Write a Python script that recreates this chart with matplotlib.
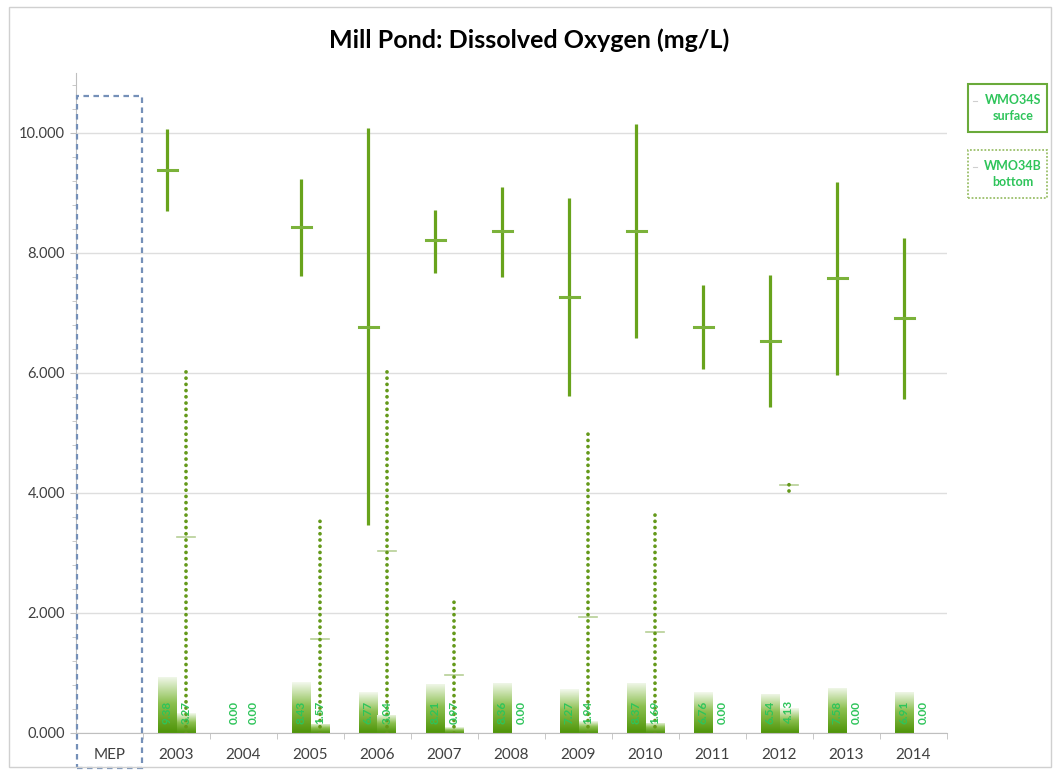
import numpy as np
import matplotlib
matplotlib.use("Agg")
import matplotlib.pyplot as plt
from matplotlib.patches import Rectangle
from matplotlib.colors import LinearSegmentedColormap
from matplotlib.ticker import MultipleLocator, FixedLocator

plt.rcParams['font.family'] = ['Lato', 'DejaVu Sans']

categories = ['MEP', '2003', '2004', '2005', '2006', '2007', '2008', '2009',
              '2010', '2011', '2012', '2013', '2014']
surface_mean = [None, 9.38, 0.00, 8.43, 6.77, 8.21, 8.36, 7.27, 8.37, 6.76, 6.54, 7.58, 6.91]
surface_high = [None, 10.07, None, 9.23, 10.08, 8.72, 9.10, 8.92, 10.15, 7.47, 7.64, 9.18, 8.25]
surface_low = [None, 8.70, None, 7.62, 3.46, 7.67, 7.60, 5.61, 6.59, 6.06, 5.44, 5.97, 5.57]
bottom_mean = [None, 3.27, 0.00, 1.57, 3.04, 0.97, 0.00, 1.94, 1.69, 0.00, 4.13, 0.00, 0.00]
bottom_high = [None, 6.09, None, 3.58, 6.07, 2.25, None, 5.02, 3.71, None, 4.20, None, None]
bottom_low = [None, 0.00, None, 0.00, 0.00, 0.00, None, 0.00, 0.00, None, 4.03, None, None]
y_ticks = [0, 2, 4, 6, 8, 10]

surf_color = '#68a31c'
bot_color = '#64991a'
label_color = '#2ec45a'

fig = plt.figure(figsize=(10.55, 7.71), dpi=100)
W, H = 1055, 771
ax = fig.add_axes([76 / W, 1 - 733 / H, (947 - 76) / W, (733 - 73) / H])

x = np.arange(len(categories))
off = 0.14
bw = 0.28

# gradient bars (value / 10)
cmap = LinearSegmentedColormap.from_list('g', ['#4e9408', '#8cc050', '#ffffff'])
grad = np.linspace(0, 1, 256).reshape(-1, 1)
s_h = [(m / 10 if m else 0) for m in [v if v is not None else 0 for v in surface_mean]]
b_h = [(m / 10 if m else 0) for m in [v if v is not None else 0 for v in bottom_mean]]
sb = ax.bar(x - off, s_h, width=bw, color='none', edgecolor='none')
bb = ax.bar(x + off, b_h, width=bw, color='none', edgecolor='none')
for p in list(sb.patches) + list(bb.patches):
    h = p.get_height()
    if h <= 0:
        continue
    x0 = p.get_x()
    w = p.get_width()
    im = ax.imshow(grad, extent=[x0, x0 + w, 0, h * 1.05], origin='lower',
                   cmap=cmap, aspect='auto', zorder=1, interpolation='bilinear')
    im.set_clip_path(p)
    p.set_height(h * 1.05)

# bar value labels
for i in range(len(categories)):
    if surface_mean[i] is not None:
        ax.text(x[i] - off, 0.34, f"{surface_mean[i]:.2f}", rotation=90, ha='center',
                va='center', fontsize=8.5, color=label_color, fontweight='bold', zorder=5)
    if bottom_mean[i] is not None:
        ax.text(x[i] + off, 0.34, f"{bottom_mean[i]:.2f}", rotation=90, ha='center',
                va='center', fontsize=8.5, color=label_color, fontweight='bold', zorder=5)

# ranges and means
for i in range(len(categories)):
    if surface_high[i] is not None:
        ax.plot([x[i] - off, x[i] - off], [surface_low[i], surface_high[i]],
                color=surf_color, lw=2.3, solid_capstyle='butt', zorder=3)
        ax.plot([x[i] - off - 0.14, x[i] - off + 0.14], [surface_mean[i]] * 2,
                color='#7bb23a', lw=2.2, zorder=3)
    if bottom_high[i] is not None:
        ax.plot([x[i] + off, x[i] + off], [bottom_low[i], bottom_high[i]],
                color=bot_color, lw=2.7, linestyle=(0, (0.01, 1.65)),
                dash_capstyle='round', zorder=3)
        ax.plot([x[i] + off - 0.13, x[i] + off + 0.13], [bottom_mean[i]] * 2,
                color='#b6cf96', lw=1.2, zorder=2)

ax.set_xlim(-0.5, len(categories) - 0.5)
ax.set_ylim(0, 11)

ax.set_yticks(y_ticks)
ax.set_yticklabels([f"{v:.3f}" for v in y_ticks], fontsize=10.5, color='#404040')
ax.yaxis.set_minor_locator(MultipleLocator(0.4))
ax.tick_params(axis='y', which='major', length=4, color='#bfbfbf', pad=4)
ax.tick_params(axis='y', which='minor', length=3, color='#bfbfbf')
ax.grid(axis='y', which='major', color='#dedede', lw=1.0, zorder=0)
ax.set_axisbelow(True)

ax.set_xticks(x)
ax.set_xticklabels(categories, fontsize=11, color='#404040')
ax.xaxis.set_minor_locator(FixedLocator(np.arange(-0.5, len(categories), 1.0)))
ax.tick_params(axis='x', which='major', length=0, pad=11)
ax.tick_params(axis='x', which='minor', length=4, color='#bfbfbf')

for s in ['top', 'right']:
    ax.spines[s].set_visible(False)
for s in ['left', 'bottom']:
    ax.spines[s].set_color('#bfbfbf')

# MEP dashed box
ax.add_patch(Rectangle((-0.485, -0.58), 0.97, 10.62 + 0.58, fill=False,
                       ec='#7590b8', lw=1.6, ls=(0, (2.5, 2)), clip_on=False, zorder=4))

# title
fig.text(0.502, 1 - 40 / H, 'Mill Pond: Dissolved Oxygen (mg/L)', ha='center', va='center',
         fontsize=18, fontweight='bold', color='#000000')

# legend boxes
def fig_rect(x0, y0, x1, y1, **kw):
    return Rectangle((x0 / W, 1 - y1 / H), (x1 - x0) / W, (y1 - y0) / H,
                     transform=fig.transFigure, fill=False, **kw)

fig.patches.append(fig_rect(968, 84, 1047, 132, ec='#6aaa3a', lw=1.5))
fig.patches.append(fig_rect(968, 150, 1047, 198, ec='#9bbf6a', lw=1.3, ls=(0, (1, 1))))
fig.text(1013 / W, 1 - 108 / H, 'WMO34S\nsurface', ha='center', va='center', fontsize=9,
         fontweight='bold', color='#2ec45a', linespacing=1.3)
fig.text(1013 / W, 1 - 174 / H, 'WMO34B\nbottom', ha='center', va='center', fontsize=9,
         fontweight='bold', color='#2ec45a', linespacing=1.3)
for yy in (101, 167):
    fig.lines.append(plt.Line2D([973 / W, 977 / W], [1 - yy / H] * 2, transform=fig.transFigure,
                                color='#cfcfcf', lw=0.8))

# outer border
fig.patches.append(fig_rect(9, 7, 1051, 767, ec='#d0d0d0', lw=1.0))

fig.savefig('out.png', dpi=100)
